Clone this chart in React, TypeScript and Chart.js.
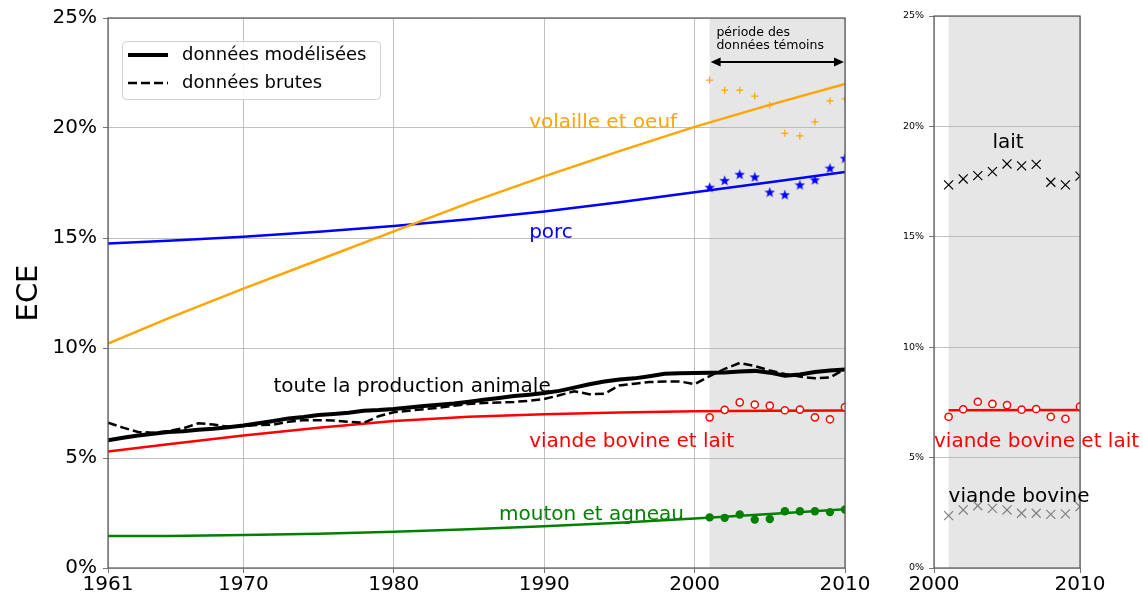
import React, { useEffect, useRef } from "react";
import { Chart, registerables } from "chart.js";
Chart.register(...registerables);

const FONT = "'DejaVu Sans', sans-serif";

// ---------- data ----------
const curveYears = [1961, 1965, 1970, 1975, 1980, 1985, 1990, 1995, 2000, 2005, 2010];
const volailleModel = [10.2, 11.35, 12.7, 14.0, 15.3, 16.6, 17.8, 18.95, 20.05, 21.05, 22.0];
const porcModel = [14.75, 14.88, 15.06, 15.28, 15.55, 15.85, 16.2, 16.62, 17.08, 17.53, 18.0];
const bovinLaitModel = [5.3, 5.62, 6.02, 6.38, 6.68, 6.87, 6.99, 7.07, 7.12, 7.15, 7.16];
const moutonModel = [1.45, 1.46, 1.5, 1.56, 1.65, 1.76, 1.9, 2.06, 2.25, 2.45, 2.67];

const allYears = [
  1961, 1962, 1963, 1964, 1965, 1966, 1967, 1968, 1969, 1970,
  1971, 1972, 1973, 1974, 1975, 1976, 1977, 1978, 1979, 1980,
  1981, 1982, 1983, 1984, 1985, 1986, 1987, 1988, 1989, 1990,
  1991, 1992, 1993, 1994, 1995, 1996, 1997, 1998, 1999, 2000,
  2001, 2002, 2003, 2004, 2005, 2006, 2007, 2008, 2009, 2010,
];
const totalModel = [
  5.8, 5.92, 6.02, 6.1, 6.18, 6.22, 6.28, 6.33, 6.4, 6.48,
  6.58, 6.68, 6.8, 6.86, 6.95, 7.0, 7.06, 7.15, 7.18, 7.23,
  7.3, 7.36, 7.42, 7.48, 7.56, 7.65, 7.73, 7.82, 7.88, 7.95,
  8.05, 8.2, 8.35, 8.48, 8.57, 8.62, 8.72, 8.83, 8.85, 8.86,
  8.87, 8.89, 8.93, 8.96, 8.88, 8.74, 8.8, 8.91, 8.98, 9.02,
];
const totalRaw = [
  6.6, 6.38, 6.18, 6.15, 6.22, 6.35, 6.58, 6.52, 6.42, 6.45,
  6.5, 6.52, 6.65, 6.72, 6.72, 6.7, 6.65, 6.6, 6.9, 7.08,
  7.15, 7.22, 7.28, 7.38, 7.46, 7.5, 7.52, 7.55, 7.6, 7.68,
  7.85, 8.03, 7.9, 7.92, 8.3, 8.38, 8.45, 8.48, 8.48, 8.36,
  8.72, 9.05, 9.32, 9.18, 8.98, 8.82, 8.7, 8.62, 8.66, 9.04,
];

const witnessYears = [2001, 2002, 2003, 2004, 2005, 2006, 2007, 2008, 2009, 2010];
const volailleObs = [22.18, 21.72, 21.72, 21.45, 21.03, 19.76, 19.64, 20.28, 21.23, 21.32];
const porcObs = [17.31, 17.62, 17.9, 17.78, 17.09, 16.97, 17.42, 17.65, 18.18, 18.63];
const bovinLaitObs = [6.85, 7.19, 7.53, 7.43, 7.38, 7.17, 7.2, 6.85, 6.76, 7.31];
const moutonObs = [2.3, 2.28, 2.43, 2.2, 2.23, 2.58, 2.58, 2.58, 2.54, 2.66];
const laitObs = [17.35, 17.62, 17.77, 17.95, 18.3, 18.21, 18.28, 17.47, 17.35, 17.75];
const bovineObs = [2.37, 2.63, 2.82, 2.7, 2.63, 2.48, 2.48, 2.43, 2.45, 2.78];

const bovinLaitRecentYears = [2001, 2010];
const bovinLaitRecent = [7.14, 7.16];

const yTicks = [0, 5, 10, 15, 20, 25];
const xTicksLeft = [1961, 1970, 1980, 1990, 2000, 2010];
const xTicksRight = [2000, 2010];
const witnessStart = 2001;
const witnessEnd = 2010;

// ---------- labels (data coordinates) ----------
const leftLabels = [
  { text: "volaille et oeuf", x: 1989, y: 20, color: "orange", size: 20 },
  { text: "porc", x: 1989, y: 15, color: "blue", size: 20 },
  { text: "toute la production animale", x: 1972, y: 8, color: "black", size: 20 },
  { text: "viande bovine et lait", x: 1989, y: 5.5, color: "red", size: 20 },
  { text: "mouton et agneau", x: 1987, y: 2.2, color: "green", size: 20 },
  { text: "période des", x: 2001.45, y: 24.18, color: "black", size: 12.5 },
  { text: "données témoins", x: 2001.45, y: 23.58, color: "black", size: 12.5 },
];
const rightLabels = [
  { text: "lait", x: 2004, y: 19.0, color: "black", size: 20 },
  { text: "viande bovine et lait", x: 2000, y: 5.5, color: "red", size: 20 },
  { text: "viande bovine", x: 2001, y: 3.0, color: "black", size: 20 },
];

const pts = (xs: number[], ys: number[]) => xs.map((x, i) => ({ x, y: ys[i] }));

function starImage(color: string, size: number) {
  const c = document.createElement("canvas");
  c.width = size;
  c.height = size;
  const g = c.getContext("2d")!;
  const cx = size / 2, cy = size / 2 + 0.5, R = size / 2, r = R * 0.42;
  g.beginPath();
  for (let i = 0; i < 10; i++) {
    const a = -Math.PI / 2 + (i * Math.PI) / 5;
    const rr = i % 2 === 0 ? R : r;
    const px = cx + rr * Math.cos(a), py = cy + rr * Math.sin(a);
    if (i) g.lineTo(px, py); else g.moveTo(px, py);
  }
  g.closePath();
  g.fillStyle = color;
  g.fill();
  return c;
}

function shadePlugin() {
  return {
    id: "shade",
    beforeDraw(chart: any) {
      const { ctx, chartArea, scales } = chart;
      const x1 = scales.x.getPixelForValue(witnessStart);
      const x2 = scales.x.getPixelForValue(witnessEnd);
      ctx.save();
      ctx.fillStyle = "#e6e6e6";
      ctx.fillRect(x1, chartArea.top, x2 - x1, chartArea.bottom - chartArea.top);
      ctx.restore();
    },
  };
}

function framePlugin() {
  return {
    id: "frame",
    afterDatasetsDraw(chart: any) {
      const { ctx, chartArea } = chart;
      ctx.save();
      ctx.strokeStyle = "#555";
      ctx.lineWidth = 1.2;
      ctx.strokeRect(chartArea.left, chartArea.top, chartArea.right - chartArea.left, chartArea.bottom - chartArea.top);
      ctx.restore();
    },
  };
}

function textPlugin(items: any[]) {
  return {
    id: "texts",
    afterDatasetsDraw(chart: any) {
      const { ctx, scales } = chart;
      ctx.save();
      ctx.textBaseline = "alphabetic";
      ctx.textAlign = "left";
      for (const it of items) {
        ctx.font = `${it.size}px ${FONT}`;
        ctx.fillStyle = it.color;
        ctx.fillText(it.text, scales.x.getPixelForValue(it.x), scales.y.getPixelForValue(it.y));
      }
      ctx.restore();
    },
  };
}

function arrowPlugin() {
  return {
    id: "arrow",
    afterDatasetsDraw(chart: any) {
      const { ctx, scales } = chart;
      const x1 = scales.x.getPixelForValue(witnessStart);
      const x2 = scales.x.getPixelForValue(witnessEnd);
      const y = scales.y.getPixelForValue(23.0);
      const hl = 10, hw = 4.5;
      ctx.save();
      ctx.strokeStyle = "#000";
      ctx.fillStyle = "#000";
      ctx.lineWidth = 2;
      ctx.beginPath();
      ctx.moveTo(x1 + hl - 2, y);
      ctx.lineTo(x2 - hl + 2, y);
      ctx.stroke();
      ctx.beginPath();
      ctx.moveTo(x1 + 1, y);
      ctx.lineTo(x1 + hl + 1, y - hw);
      ctx.lineTo(x1 + hl + 1, y + hw);
      ctx.closePath();
      ctx.fill();
      ctx.beginPath();
      ctx.moveTo(x2 - 1, y);
      ctx.lineTo(x2 - hl - 1, y - hw);
      ctx.lineTo(x2 - hl - 1, y + hw);
      ctx.closePath();
      ctx.fill();
      ctx.restore();
    },
  };
}

function legendPlugin() {
  return {
    id: "customLegend",
    afterDatasetsDraw(chart: any) {
      const { ctx, chartArea } = chart;
      const bx = chartArea.left + 14.5, by = chartArea.top + 23.5, bw = 258, bh = 58;
      ctx.save();
      ctx.fillStyle = "rgba(255,255,255,0.85)";
      ctx.strokeStyle = "#d0d0d0";
      ctx.lineWidth = 1;
      ctx.beginPath();
      (ctx as any).roundRect(bx, by, bw, bh, 4);
      ctx.fill();
      ctx.stroke();
      const lx1 = chartArea.left + 20, lx2 = chartArea.left + 60;
      const y1 = chartArea.top + 37, y2 = chartArea.top + 65;
      ctx.strokeStyle = "#000";
      ctx.lineWidth = 4;
      ctx.beginPath();
      ctx.moveTo(lx1, y1);
      ctx.lineTo(lx2, y1);
      ctx.stroke();
      ctx.lineWidth = 2.5;
      ctx.setLineDash([9, 4]);
      ctx.beginPath();
      ctx.moveTo(lx1, y2);
      ctx.lineTo(lx2, y2);
      ctx.stroke();
      ctx.setLineDash([]);
      ctx.fillStyle = "#000";
      ctx.font = `18px ${FONT}`;
      ctx.textBaseline = "middle";
      ctx.fillText("données modélisées", chartArea.left + 74, y1);
      ctx.fillText("données brutes", chartArea.left + 74, y2);
      ctx.restore();
    },
  };
}

function yScale(fontSize: number, pad: number, width: number) {
  return {
    type: "linear",
    min: 0,
    max: 25,
    afterBuildTicks: (s: any) => { s.ticks = yTicks.map((v) => ({ value: v })); },
    afterFit: (s: any) => { s.width = width; },
    ticks: { callback: (v: any) => v + "%", font: { family: FONT, size: fontSize }, color: "#000", padding: pad },
    grid: { color: "#b0b0b0", lineWidth: 0.8, tickLength: 5, tickColor: "#555" },
    border: { display: false },
  };
}

function xScale(min: number, max: number, ticks: number[]) {
  return {
    type: "linear",
    min,
    max,
    afterBuildTicks: (s: any) => { s.ticks = ticks.map((v) => ({ value: v })); },
    afterFit: (s: any) => { s.height = 32; },
    ticks: { callback: (v: any) => String(v), font: { family: FONT, size: 20 }, color: "#000", padding: 0, maxRotation: 0, autoSkip: false },
    grid: { color: "#b0b0b0", lineWidth: 0.8, tickLength: 5, tickColor: "#555" },
    border: { display: false },
  };
}

const lineDs = (data: any[], color: string, width: number, order: number, dash: number[] = []) => ({
  data,
  borderColor: color,
  borderWidth: width,
  borderDash: dash,
  pointRadius: 0,
  tension: 0,
  fill: false,
  order,
  clip: 0,
});

const pointDs = (data: any[], extra: any) => ({
  data,
  showLine: false,
  order: 0,
  clip: 0,
  pointHoverRadius: 0,
  ...extra,
});

export default function App() {
  const leftRef = useRef<HTMLCanvasElement>(null);
  const rightRef = useRef<HTMLCanvasElement>(null);

  useEffect(() => {
    const star = starImage("blue", 11);
    const common = {
      animation: false,
      responsive: false,
      devicePixelRatio: 1,
      events: [],
      plugins: { legend: { display: false }, tooltip: { enabled: false } },
    };

    const left = new Chart(leftRef.current!, {
      type: "line",
      data: {
        datasets: [
          pointDs(pts(witnessYears, volailleObs), { pointStyle: "cross", pointRadius: 3.5, borderColor: "orange", borderWidth: 1.2 }),
          pointDs(pts(witnessYears, porcObs), { pointStyle: star, borderColor: "blue", backgroundColor: "blue" }),
          pointDs(pts(witnessYears, bovinLaitObs), { pointStyle: "circle", pointRadius: 3.6, borderColor: "red", backgroundColor: "#fff", borderWidth: 1.5 }),
          pointDs(pts(witnessYears, moutonObs), { pointStyle: "circle", pointRadius: 4.2, borderColor: "green", backgroundColor: "green", borderWidth: 0 }),
          lineDs(pts(allYears, totalRaw), "#000", 2.5, 1, [9, 4]),
          lineDs(pts(allYears, totalModel), "#000", 4, 2),
          lineDs(pts(curveYears, volailleModel), "orange", 2.5, 3),
          lineDs(pts(curveYears, porcModel), "blue", 2.5, 3),
          lineDs(pts(curveYears, bovinLaitModel), "red", 2.5, 3),
          lineDs(pts(curveYears, moutonModel), "green", 2.5, 3),
        ] as any,
      },
      options: {
        ...common,
        layout: { padding: { top: 16, right: 35, left: 0, bottom: 0 } },
        scales: {
          x: xScale(1961, 2010, xTicksLeft),
          y: {
            ...yScale(20, 6, 108),
            title: { display: true, text: "ECE", font: { family: FONT, size: 29 }, color: "#000", padding: { top: 12, bottom: 0 } },
          },
        },
      } as any,
      plugins: [shadePlugin(), framePlugin(), textPlugin(leftLabels), arrowPlugin(), legendPlugin()] as any,
    });

    const right = new Chart(rightRef.current!, {
      type: "line",
      data: {
        datasets: [
          pointDs(pts(witnessYears, laitObs), { pointStyle: "crossRot", pointRadius: 6.4, borderColor: "#000", borderWidth: 1.2 }),
          pointDs(pts(witnessYears, bovinLaitObs), { pointStyle: "circle", pointRadius: 3.6, borderColor: "red", backgroundColor: "#fff", borderWidth: 1.5 }),
          pointDs(pts(witnessYears, bovineObs), { pointStyle: "crossRot", pointRadius: 6.4, borderColor: "#808080", borderWidth: 1.2 }),
          lineDs(pts(bovinLaitRecentYears, bovinLaitRecent), "red", 2.5, 3),
        ] as any,
      },
      options: {
        ...common,
        layout: { padding: { top: 16, right: 63, left: 0, bottom: 0 } },
        scales: {
          x: xScale(2000, 2010, xTicksRight),
          y: yScale(9.5, 5, 54),
        },
      } as any,
      plugins: [shadePlugin(), framePlugin(), textPlugin(rightLabels)] as any,
    });

    return () => {
      left.destroy();
      right.destroy();
    };
  }, []);

  return (
    <div style={{ position: "fixed", left: 0, top: 0, width: 1143, height: 600, background: "#fff", overflow: "hidden" }}>
      <canvas ref={leftRef} width={880} height={600} style={{ position: "absolute", left: 0, top: 0, width: 880, height: 600 }} />
      <canvas ref={rightRef} width={263} height={600} style={{ position: "absolute", left: 880, top: 0, width: 263, height: 600 }} />
    </div>
  );
}
